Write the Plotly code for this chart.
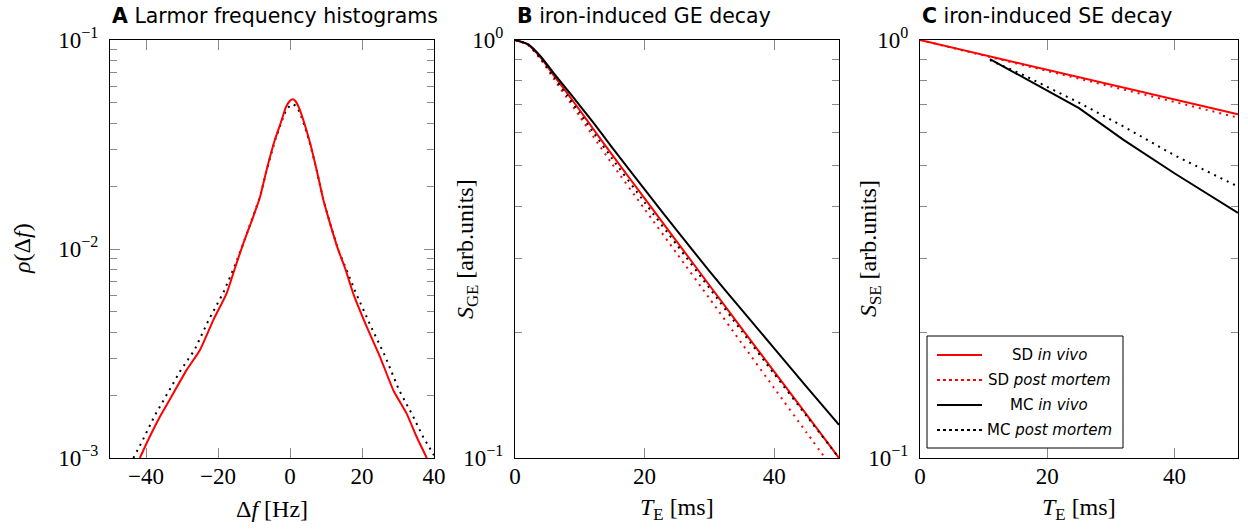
import math
import plotly.graph_objects as go

# ---------------- data ----------------
# Panel A: Larmor frequency histograms
hist_sd_x = [-41.7, -39.8, -36.1, -32.4, -28.7, -25.0, -21.3, -17.6, -15.3, -13.0, -10.2, -8.3, -6.5, -4.2, -2.3, -1.2,
             0.0, 0.7, 1.5, 2.6, 3.7, 5.6, 7.4, 9.3, 11.1, 13.4, 15.3, 17.6, 21.3, 25.0, 28.7, 32.4, 35.2, 38.0]
hist_sd_y = [0.00100, 0.00118, 0.00158, 0.00204, 0.00264, 0.00329, 0.00457, 0.00614, 0.00809, 0.0106, 0.0143, 0.0178,
             0.0239, 0.0333, 0.0414, 0.0475, 0.0512, 0.0520, 0.0511, 0.0470, 0.0414, 0.0321, 0.0239, 0.0171, 0.0133,
             0.0099, 0.0081, 0.0061, 0.00425, 0.00305, 0.00211, 0.00163, 0.00126, 0.00100]
hist_mc_x = [-43.5, -41.3, -37.7, -34.0, -30.3, -26.5, -22.6, -18.6, -15.6, -13.0, -10.2, -8.3, -6.5, -4.2, -2.3, -1.2,
             0.0, 0.7, 1.5, 2.6, 3.7, 5.6, 7.4, 9.3, 11.1, 13.4, 15.5, 18.4, 22.5, 26.5, 30.3, 33.8, 37.0, 40.0]
hist_mc_y = [0.00100, 0.00118, 0.00158, 0.00204, 0.00264, 0.00329, 0.00457, 0.00614, 0.00809, 0.0106, 0.0143, 0.0178,
             0.0238, 0.0330, 0.0408, 0.0458, 0.0487, 0.0493, 0.0486, 0.0455, 0.0405, 0.0318, 0.0238, 0.0171, 0.0133,
             0.0099, 0.0081, 0.0061, 0.00425, 0.00305, 0.00211, 0.00163, 0.00126, 0.00103]

# Panel B: GE decay
ge_te = [0, 2, 4, 6, 8, 10, 12, 15, 20, 25, 30, 35, 40, 45, 50]
ge_sd_invivo = [1.0, 0.975, 0.906, 0.822, 0.748, 0.679, 0.615, 0.531, 0.418, 0.329, 0.259, 0.204, 0.161, 0.127, 0.100]
ge_sd_pm = [1.0, 0.973, 0.897, 0.807, 0.728, 0.656, 0.590, 0.505, 0.394, 0.308, 0.241, 0.188, 0.147, 0.115, 0.090]
ge_mc_invivo = [1.0, 0.977, 0.912, 0.832, 0.762, 0.697, 0.637, 0.553, 0.439, 0.350, 0.280, 0.226, 0.183, 0.148, 0.120]
ge_mc_pm = [1.0, 0.975, 0.902, 0.815, 0.738, 0.668, 0.604, 0.520, 0.409, 0.323, 0.255, 0.201, 0.159, 0.126, 0.100]

# Panel C: SE decay
se_sd_te = [0, 10, 20, 30, 40, 50]
se_sd_invivo = [1.0, 0.921, 0.849, 0.782, 0.720, 0.664]
se_sd_pm = [1.0, 0.919, 0.845, 0.776, 0.711, 0.652]
se_mc_te = [11, 16, 25, 32, 40, 50]
se_mc_invivo = [0.900, 0.817, 0.687, 0.577, 0.480, 0.386]
se_mc_pm = [0.895, 0.828, 0.708, 0.621, 0.530, 0.446]

legend_labels = ["SD <i>in vivo</i>", "SD <i>post mortem</i>", "MC <i>in vivo</i>", "MC <i>post mortem</i>"]
panel_titles = ["<b>A</b> Larmor frequency histograms", "<b>B</b> iron-induced GE decay",
                "<b>C</b> iron-induced SE decay"]

# ---------------- layout helpers ----------------
W, H = 1248, 531
RED, BLACK = "#ff0000", "#000000"
DOT = "2px,5px"
SERIF = "Liberation Serif"
SANS = "DejaVu Sans"
TICKFS = 23
LABFS = 24


def px(x):
    return x / W


def py(y):
    return 1 - y / H


TOP, BOT = 40, 458
panels = [(110, 434), (515, 839), (920, 1238)]

fig = go.Figure()

# Panel A
fig.add_trace(go.Scatter(x=hist_mc_x, y=hist_mc_y, mode="lines", line=dict(color=BLACK, width=2, dash=DOT),
                         xaxis="x", yaxis="y", showlegend=False))
fig.add_trace(go.Scatter(x=hist_sd_x, y=hist_sd_y, mode="lines",
                         line=dict(color=RED, width=2, shape="spline", smoothing=0.5),
                         xaxis="x", yaxis="y", showlegend=False))

# Panel B
styles = [(RED, None), (RED, DOT), (BLACK, None), (BLACK, DOT)]
for ys, (c, d) in zip([ge_sd_invivo, ge_sd_pm, ge_mc_invivo, ge_mc_pm], styles):
    fig.add_trace(go.Scatter(x=ge_te, y=ys, mode="lines",
                             line=dict(color=c, width=2, dash=d, shape="spline", smoothing=0.6),
                             xaxis="x2", yaxis="y2", showlegend=False))

# Panel C
for xs, ys, (c, d) in zip([se_sd_te, se_sd_te, se_mc_te, se_mc_te],
                          [se_sd_invivo, se_sd_pm, se_mc_invivo, se_mc_pm], styles):
    fig.add_trace(go.Scatter(x=xs, y=ys, mode="lines", line=dict(color=c, width=2, dash=d),
                             xaxis="x3", yaxis="y3", showlegend=False))

TICKC = "#8a8a8a"


def xax(i, rng, vals):
    x0, x1 = panels[i]
    return dict(domain=[px(x0), px(x1)], range=rng, tickmode="array", tickvals=vals,
                ticktext=[("−" + str(abs(v))) if v < 0 else str(v) for v in vals],
                ticks="inside", ticklen=10, tickwidth=1, tickcolor=TICKC, mirror="allticks",
                showline=True, linecolor="black", linewidth=1.3, showgrid=False, zeroline=False,
                automargin=False, ticklabelstandoff=-3,
                tickfont=dict(family=SERIF, size=TICKFS, color="black"),
                anchor="y" if i == 0 else "y%d" % (i + 1))


def ylabel(v):
    e = round(math.log10(v))
    return "10<sup>%s</sup>" % (("−%d" % -e) if e < 0 else str(e))


def yax(i, rng, vals, minors):
    return dict(domain=[py(BOT), py(TOP)], type="log", range=rng, tickmode="array", tickvals=vals,
                ticktext=[ylabel(v) for v in vals],
                ticks="inside", ticklen=10, tickwidth=1, tickcolor=TICKC, mirror="allticks",
                minor=dict(ticks="inside", ticklen=7, tickwidth=1, tickcolor=TICKC, tickvals=minors, showgrid=False),
                showline=True, linecolor="black", linewidth=1.3, showgrid=False, zeroline=False,
                automargin=False, ticklabelstandoff=6,
                tickfont=dict(family=SERIF, size=TICKFS, color="black"),
                anchor="x" if i == 0 else "x%d" % (i + 1))


minorA = [m * 10 ** e for e in (-3, -2) for m in range(2, 10)]
minorBC = [m * 0.1 for m in range(2, 10)]

fig.update_layout(
    width=W, height=H, margin=dict(l=0, r=0, t=0, b=0, autoexpand=False),
    paper_bgcolor="white", plot_bgcolor="white",
    xaxis=xax(0, [-50, 40], [-40, -20, 0, 20, 40]),
    yaxis=yax(0, [-3, -1], [1e-3, 1e-2, 1e-1], minorA),
    xaxis2=xax(1, [0, 50], [0, 20, 40]),
    yaxis2=yax(1, [-1, 0], [0.1, 1], minorBC),
    xaxis3=xax(2, [0, 50], [0, 20, 40]),
    yaxis3=yax(2, [-1, 0], [0.1, 1], minorBC),
    showlegend=False,
)

ann = []
# panel titles (left aligned with axes)
for (x0, _), t in zip(panels, panel_titles):
    ann.append(dict(x=px(x0), y=py(16), xref="paper", yref="paper", text=t, showarrow=False,
                    xanchor="left", yanchor="middle", font=dict(family=SANS, size=20.5, color="black")))
# x axis titles
for (x0, x1), t in zip(panels, ["Δ<i>f</i> [Hz]", "<i>T</i><sub>E</sub> [ms]", "<i>T</i><sub>E</sub> [ms]"]):
    ann.append(dict(x=px((x0 + x1) / 2), y=py(509), xref="paper", yref="paper", text=t, showarrow=False,
                    xanchor="center", yanchor="middle", font=dict(family=SERIF, size=LABFS, color="black")))
# y axis titles
for xc, t in zip([22, 467, 870], ["<i>ρ</i>(Δ<i>f</i>)", "<i>S</i><sub>GE</sub> [arb.units]",
                                  "<i>S</i><sub>SE</sub> [arb.units]"]):
    ann.append(dict(x=px(xc), y=py((TOP + BOT) / 2), xref="paper", yref="paper", text=t, showarrow=False,
                    textangle=-90, xanchor="center", yanchor="middle",
                    font=dict(family=SERIF, size=LABFS, color="black")))

# legend in panel C
shapes = [dict(type="rect", xref="paper", yref="paper", x0=px(927), x1=px(1123), y0=py(448), y1=py(336),
               line=dict(color="black", width=1), fillcolor="white", layer="above")]
for k, (lab, (c, d)) in enumerate(zip(legend_labels, styles)):
    yy = 355 + 25 * k
    shapes.append(dict(type="line", xref="paper", yref="paper", x0=px(937), x1=px(982), y0=py(yy), y1=py(yy),
                       line=dict(color=c, width=2, dash="dot" if d else None), layer="above"))
    ann.append(dict(x=px(1049), y=py(yy), xref="paper", yref="paper", text=lab, showarrow=False,
                    xanchor="center", yanchor="middle", font=dict(family=SANS, size=15, color="black")))

fig.update_layout(annotations=ann, shapes=shapes)
fig.write_html("out.html", config={"displayModeBar": False},
               post_script=("document.documentElement.style.overflow='hidden';"
                            "document.body.style.margin='0px';document.body.style.overflow='hidden';"))
